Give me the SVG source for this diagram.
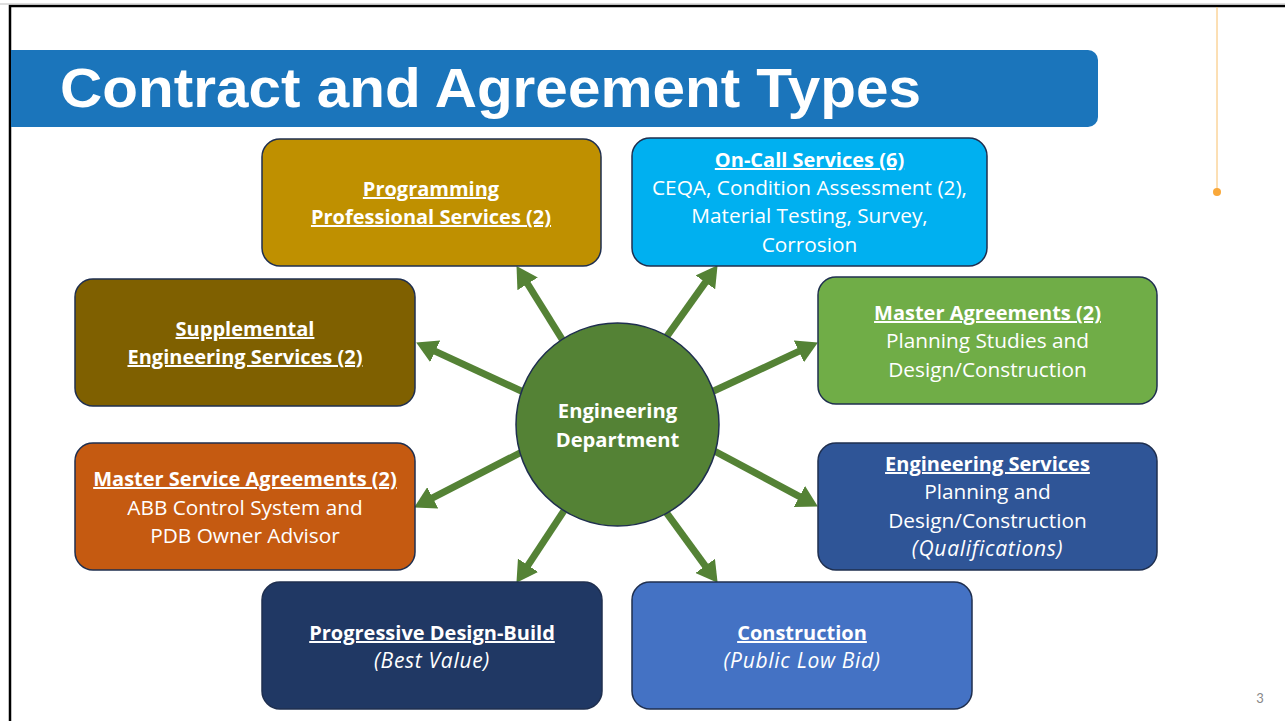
<svg xmlns="http://www.w3.org/2000/svg" width="1285" height="721" viewBox="0 0 1285 721">
<style>
.box{stroke:#1F2F4F;stroke-width:1.5}
.t{font-family:"Open Sans",Lato,"Liberation Sans",sans-serif;font-size:20.8px;fill:#fff;text-anchor:middle}
.h{font-weight:bold;text-decoration:underline;font-size:20px}
.b{font-weight:bold;font-size:20.2px}
.i{font-style:italic;font-size:21px;letter-spacing:0.7px}
.arr{stroke:#548235;stroke-width:7;fill:none;marker-end:url(#ah)}
</style>
<defs>
<marker id="ah" markerUnits="userSpaceOnUse" markerWidth="22" markerHeight="24" refX="4" refY="12" orient="auto" viewBox="0 0 22 24">
<path d="M0,0 L21,12 L0,24 z" fill="#548235"/>
</marker>
</defs>
<rect width="1285" height="721" fill="#fff"/>
<path d="M10,721 V6 H1285" fill="none" stroke="#000" stroke-width="2.5"/>
<line x1="0" y1="4" x2="1285" y2="4" stroke="#bbb" stroke-width="1"/>
<g id="title">
<path d="M11,50 H1088 a10,10 0 0 1 10,10 V117 a10,10 0 0 1 -10,10 H11 z" fill="#1B75BB"/>
<text x="60" y="107" font-family="'Liberation Sans',Arial,sans-serif" font-weight="bold" font-size="56" fill="#fff" textLength="861" lengthAdjust="spacingAndGlyphs">Contract and Agreement Types</text>
</g>
<g id="accent">
<line x1="1217" y1="7" x2="1217" y2="192" stroke="#F9C06A" stroke-width="1"/>
<circle cx="1217" cy="192" r="4" fill="#F9A83A"/>
</g>
<g id="connectors">
<line class="arr" x1="575" y1="360" x2="525.5" y2="280.5"/>
<line class="arr" x1="545" y1="402" x2="431.6" y2="349.6"/>
<line class="arr" x1="655" y1="353" x2="707.7" y2="279.1"/>
<line class="arr" x1="690" y1="402" x2="802.5" y2="349.7"/>
<line class="arr" x1="545" y1="440" x2="429.2" y2="499.7"/>
<line class="arr" x1="690" y1="438" x2="802.9" y2="498.4"/>
<line class="arr" x1="575" y1="494" x2="525.8" y2="568.6"/>
<line class="arr" x1="655" y1="497" x2="707.6" y2="569.1"/>
</g>
<g id="center">
<circle cx="617.5" cy="424.5" r="101.5" fill="#548235" stroke="#1F2F4F" stroke-width="1.5"/>
<text class="t b" x="617.5" y="418">Engineering</text>
<text class="t b" x="617.5" y="447">Department</text>
</g>
<g id="programming">
<rect class="box" x="262" y="139" width="339" height="127" rx="18" fill="#BF9000"/>
<text class="t h" x="431" y="196">Programming</text>
<text class="t h" x="431" y="224">Professional Services (2)</text>
</g>
<g id="oncall">
<rect class="box" x="632" y="138" width="355" height="128" rx="18" fill="#00B0F0"/>
<text class="t h" x="809.5" y="167">On-Call Services (6)</text>
<text class="t" x="809.5" y="195">CEQA, Condition Assessment (2),</text>
<text class="t" x="809.5" y="223">Material Testing, Survey,</text>
<text class="t" x="809.5" y="252">Corrosion</text>
</g>
<g id="supplemental">
<rect class="box" x="75" y="279" width="340" height="127" rx="18" fill="#7F6000"/>
<text class="t h" x="245" y="336">Supplemental</text>
<text class="t h" x="245" y="364">Engineering Services (2)</text>
</g>
<g id="master-agreements">
<rect class="box" x="818" y="277" width="339" height="127" rx="18" fill="#70AD47"/>
<text class="t h" x="987.5" y="320">Master Agreements (2)</text>
<text class="t" x="987.5" y="348">Planning Studies and</text>
<text class="t" x="987.5" y="377">Design/Construction</text>
</g>
<g id="msa">
<rect class="box" x="75" y="443" width="340" height="127" rx="18" fill="#C55A11"/>
<text class="t h" x="245" y="486">Master Service Agreements (2)</text>
<text class="t" x="245" y="515">ABB Control System and</text>
<text class="t" x="245" y="543">PDB Owner Advisor</text>
</g>
<g id="eng-services">
<rect class="box" x="818" y="443" width="339" height="127" rx="18" fill="#2F5597"/>
<text class="t h" x="987.5" y="471">Engineering Services</text>
<text class="t" x="987.5" y="499">Planning and</text>
<text class="t" x="987.5" y="528">Design/Construction</text>
<text class="t i" x="987.5" y="556">(Qualifications)</text>
</g>
<g id="progressive">
<rect class="box" x="262" y="582" width="340" height="127" rx="18" fill="#203864"/>
<text class="t h" x="432" y="640">Progressive Design-Build</text>
<text class="t i" x="432" y="668">(Best Value)</text>
</g>
<g id="construction">
<rect class="box" x="632" y="582" width="340" height="127" rx="18" fill="#4472C4"/>
<text class="t h" x="802" y="640">Construction</text>
<text class="t i" x="802" y="668">(Public Low Bid)</text>
</g>
<text x="1260" y="703" font-family="Lato,'Liberation Sans',sans-serif" font-size="13" fill="#888" text-anchor="middle">3</text>
</svg>
